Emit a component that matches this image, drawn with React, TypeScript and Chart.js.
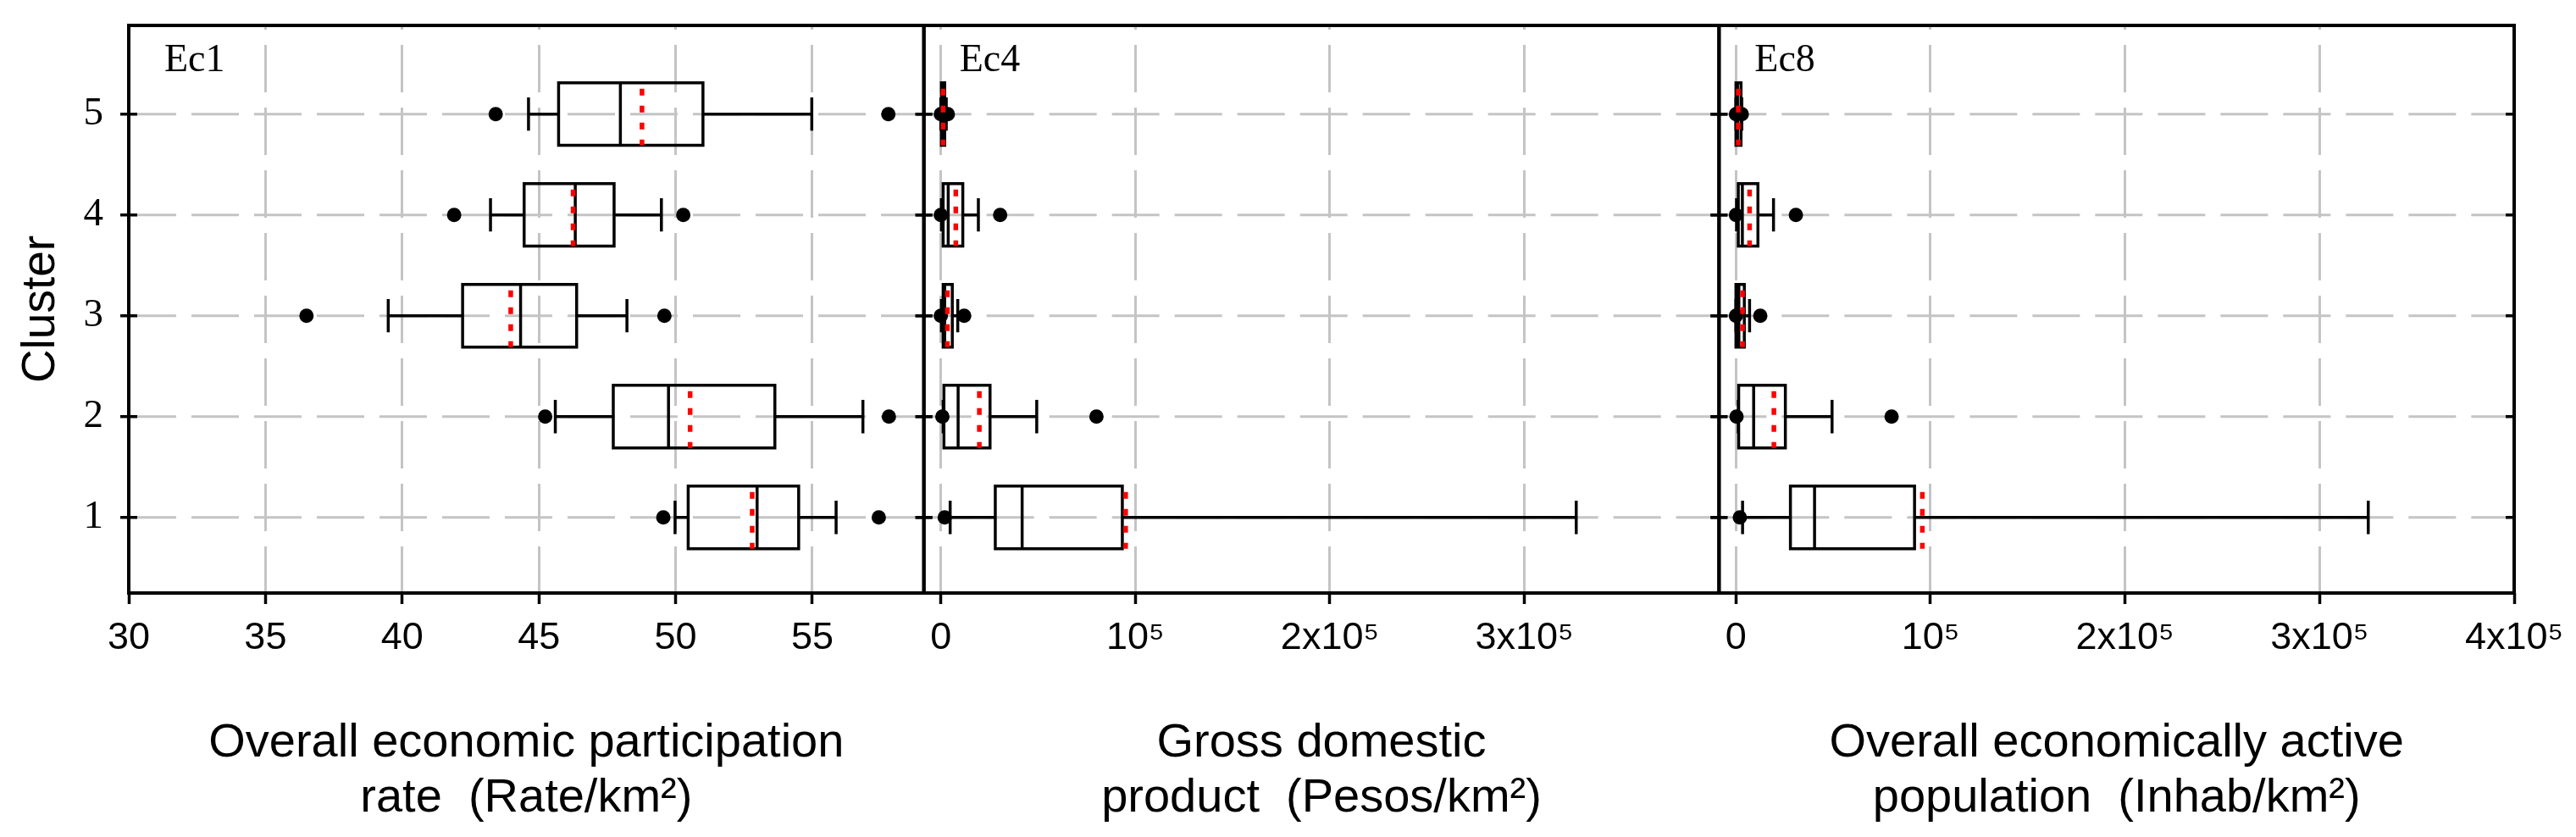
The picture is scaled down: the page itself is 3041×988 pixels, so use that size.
import React, { useEffect, useRef } from 'react';
import { Chart, registerables } from 'chart.js';

Chart.register(...registerables);

// ---------- data ----------
const CLUSTERS = [1, 2, 3, 4, 5];

// Ec1 : Overall economic participation rate
const EC1_LOW = [49.98, 45.6, 39.49, 43.23, 44.62];
const EC1_Q1 = [50.46, 47.72, 42.21, 44.46, 45.72];
const EC1_MEDIAN = [52.98, 49.74, 44.33, 46.33, 47.98];
const EC1_MEAN = [52.8, 50.53, 43.97, 46.25, 48.77];
const EC1_Q3 = [54.5, 53.63, 46.38, 47.75, 51.0];
const EC1_HIGH = [55.87, 56.85, 48.22, 49.48, 54.98];
const EC1_OUTLIERS = [[49.55, 57.43], [45.23, 57.8], [36.5, 49.59], [41.9, 50.28], [43.42, 57.78]];

// Ec4 : Gross domestic product
const EC4_LOW = [4800, 1200, 300, 300, 0];
const EC4_Q1 = [28000, 1600, 1200, 1200, 300];
const EC4_MEDIAN = [41800, 8900, 2000, 3800, 800];
const EC4_MEAN = [95000, 19800, 3400, 7700, 1200];
const EC4_Q3 = [93300, 25300, 5900, 11300, 2000];
const EC4_HIGH = [326600, 49300, 8700, 19300, 2800];
const EC4_OUTLIERS = [[2000], [800, 80000], [0, 12000], [0, 30500], [0, 3600]];

// Ec8 : Overall economically active population
const EC8_LOW = [3400, 1200, 0, 300, 0];
const EC8_Q1 = [28000, 1400, 0, 1200, 0];
const EC8_MEDIAN = [40400, 9100, 1500, 3300, 800];
const EC8_MEAN = [95800, 19500, 3400, 7000, 1200];
const EC8_Q3 = [91800, 25400, 4300, 11300, 2600];
const EC8_HIGH = [325000, 49400, 7000, 19300, 3000];
const EC8_OUTLIERS = [[2000], [300, 80000], [0, 12500], [0, 30800], [0, 3000]];

// axes / ticks
const EC1_RANGE = [30, 59.08];
const EC1_TICKS = [30, 35, 40, 45, 50, 55];
const EC1_TICK_LABELS = ['30', '35', '40', '45', '50', '55'];
const EC4_RANGE = [-8700, 400000];
const EC4_TICKS = [0, 100000, 200000, 300000];
const EC4_TICK_LABELS = ['0', '10⁵', '2x10⁵', '3x10⁵'];
const EC8_RANGE = [-8700, 400000];
const EC8_TICKS = [0, 100000, 200000, 300000, 400000];
const EC8_TICK_LABELS = ['0', '10⁵', '2x10⁵', '3x10⁵', '4x10⁵'];
const Y_RANGE = [0.25, 5.88];

const PANEL_IDS = ['x1', 'x2', 'x3'];
const PANEL_LABELS = ['Ec1', 'Ec4', 'Ec8'];
const EC1_TITLE = ['Overall economic participation', 'rate  (Rate/km²)'];
const EC4_TITLE = ['Gross domestic', 'product  (Pesos/km²)'];
const EC8_TITLE = ['Overall economically active', 'population  (Inhab/km²)'];
const Y_TITLE = 'Cluster';

// ---------- styles ----------
const SANS = "'Liberation Sans', Arial, sans-serif";
const SERIF = "'Liberation Serif', 'Times New Roman', serif";
const GRID_COLOR = '#c4c4c4';
const MEAN_COLOR = '#ff0000';
const BOX_HALF = 0.31;
const CAP_HALF = 0.165;
const CANVAS_W = 3025;
const CANVAS_H = 972;
const X_AXIS_HEIGHT = 280;
const Y_AXIS_WIDTH = 144;
const LINE_W = 3.5;
const FRAME_W = 4;

function panelDatasets(
  xAxisID: string,
  low: number[], q1: number[], median: number[], mean: number[],
  q3: number[], high: number[], outliers: number[][]
) {
  const gap = () => ({ x: null, y: null });
  const box: any[] = [], med: any[] = [], avg: any[] = [], whisk: any[] = [], caps: any[] = [], out: any[] = [];
  CLUSTERS.forEach((c, i) => {
    box.push(
      { x: q1[i], y: c - BOX_HALF }, { x: q3[i], y: c - BOX_HALF },
      { x: q3[i], y: c + BOX_HALF }, { x: q1[i], y: c + BOX_HALF },
      { x: q1[i], y: c - BOX_HALF }, gap()
    );
    med.push({ x: median[i], y: c + BOX_HALF }, { x: median[i], y: c - BOX_HALF }, gap());
    avg.push({ x: mean[i], y: c + BOX_HALF }, { x: mean[i], y: c - BOX_HALF }, gap());
    whisk.push({ x: low[i], y: c }, { x: q1[i], y: c }, gap(), { x: q3[i], y: c }, { x: high[i], y: c }, gap());
    caps.push(
      { x: low[i], y: c - CAP_HALF }, { x: low[i], y: c + CAP_HALF }, gap(),
      { x: high[i], y: c - CAP_HALF }, { x: high[i], y: c + CAP_HALF }, gap()
    );
    outliers[i].forEach((v) => out.push({ x: v, y: c }));
  });
  const line = (data: any[], color: string, width: number, dash: number[] = [], dashOffset = 0, cap = 'butt') => ({
    type: 'scatter',
    data,
    xAxisID,
    yAxisID: 'y',
    showLine: true,
    spanGaps: false,
    borderColor: color,
    backgroundColor: color,
    borderWidth: width,
    borderDash: dash,
    borderDashOffset: dashOffset,
    borderCapStyle: cap,
    borderJoinStyle: 'miter',
    pointRadius: 0,
    pointHoverRadius: 0,
    fill: false,
    tension: 0,
  });
  return [
    line(avg, MEAN_COLOR, 5.5, [8, 12], 13),
    {
      type: 'scatter',
      data: out,
      xAxisID,
      yAxisID: 'y',
      showLine: false,
      pointRadius: 8.5,
      pointHoverRadius: 8.5,
      pointStyle: 'circle',
      pointBackgroundColor: '#000',
      pointBorderColor: '#000',
      pointBorderWidth: 0,
    },
    line(med, '#000', LINE_W),
    line(box, '#000', LINE_W, [], 0, 'square'),
    line(caps, '#000', LINE_W),
    line(whisk, '#000', LINE_W),
  ];
}

function xScale(range: number[], ticks: number[], labels: string[], title: string[]) {
  return {
    type: 'linear',
    position: 'bottom',
    stack: 'panels',
    stackWeight: 1,
    min: range[0],
    max: range[1],
    afterBuildTicks: (s: any) => {
      s.ticks = ticks.map((v) => ({ value: v }));
    },
    afterFit: (s: any) => {
      s.height = X_AXIS_HEIGHT;
      s.paddingLeft = 0;
      s.paddingRight = 0;
    },
    ticks: {
      autoSkip: false,
      maxRotation: 0,
      minRotation: 0,
      padding: 14,
      color: '#000',
      font: { family: SANS, size: 45 },
      callback: (v: number) => {
        const i = ticks.indexOf(v);
        return i >= 0 ? labels[i] : '';
      },
    },
    grid: {
      display: true,
      color: GRID_COLOR,
      lineWidth: 3,
      borderDash: [56, 18],
      borderDashOffset: 51,
      drawOnChartArea: true,
      drawTicks: true,
      tickLength: 13,
      tickColor: '#000',
      tickWidth: 3.5,
      tickBorderDash: [],
      tickBorderDashOffset: 0,
    },
    border: { display: false, dash: [56, 18], dashOffset: 51 },
    title: {
      display: true,
      text: title,
      color: '#000',
      font: { family: SANS, size: 56, lineHeight: 1.16 },
      padding: { top: 0, bottom: 5 },
    },
  };
}

const panelGridPlugin = {
  id: 'panelGrid',
  beforeDatasetsDraw(chart: any) {
    const { ctx } = chart;
    const y = chart.scales.y;
    ctx.save();
    ctx.strokeStyle = GRID_COLOR;
    ctx.lineWidth = 3;
    ctx.setLineDash([56, 18]);
    ctx.lineDashOffset = 0;
    PANEL_IDS.forEach((id) => {
      const xs = chart.scales[id];
      CLUSTERS.forEach((c) => {
        const py = y.getPixelForValue(c);
        ctx.beginPath();
        ctx.moveTo(xs.left, py);
        ctx.lineTo(xs.right, py);
        ctx.stroke();
      });
    });
    ctx.restore();
  },
};

const framePlugin = {
  id: 'frame',
  afterDatasetsDraw(chart: any) {
    const { ctx, chartArea } = chart;
    const y = chart.scales.y;
    ctx.save();
    ctx.strokeStyle = '#000';
    ctx.lineWidth = FRAME_W;
    ctx.setLineDash([]);
    ctx.strokeRect(chartArea.left, chartArea.top, chartArea.right - chartArea.left, chartArea.bottom - chartArea.top);
    const edges: number[] = [];
    PANEL_IDS.forEach((id) => {
      const xs = chart.scales[id];
      edges.push(xs.left, xs.right);
    });
    edges.forEach((ex) => {
      ctx.beginPath();
      ctx.moveTo(ex, chartArea.top);
      ctx.lineTo(ex, chartArea.bottom);
      ctx.stroke();
    });
    const last = chart.scales[PANEL_IDS[PANEL_IDS.length - 1]].right;
    ctx.lineWidth = 3.5;
    edges.forEach((ex) => {
      CLUSTERS.forEach((c) => {
        const py = y.getPixelForValue(c);
        ctx.beginPath();
        ctx.moveTo(ex - 10, py);
        ctx.lineTo(Math.abs(ex - last) < 1 ? ex : ex + 10, py);
        ctx.stroke();
      });
    });
    ctx.restore();
  },
  afterDraw(chart: any) {
    const { ctx, chartArea } = chart;
    ctx.save();
    ctx.fillStyle = '#000';
    ctx.font = `46px ${SERIF}`;
    ctx.textBaseline = 'alphabetic';
    ctx.textAlign = 'left';
    PANEL_IDS.forEach((id, i) => {
      const xs = chart.scales[id];
      ctx.fillText(PANEL_LABELS[i], xs.left + 42, chartArea.top + 54);
    });
    ctx.restore();
  },
};

export default function App() {
  const ref = useRef<HTMLCanvasElement>(null);
  useEffect(() => {
    if (!ref.current) return;
    const datasets = [
      ...panelDatasets('x1', EC1_LOW, EC1_Q1, EC1_MEDIAN, EC1_MEAN, EC1_Q3, EC1_HIGH, EC1_OUTLIERS),
      ...panelDatasets('x2', EC4_LOW, EC4_Q1, EC4_MEDIAN, EC4_MEAN, EC4_Q3, EC4_HIGH, EC4_OUTLIERS),
      ...panelDatasets('x3', EC8_LOW, EC8_Q1, EC8_MEDIAN, EC8_MEAN, EC8_Q3, EC8_HIGH, EC8_OUTLIERS),
    ];
    const chart = new Chart(ref.current, {
      type: 'scatter',
      data: { datasets } as any,
      plugins: [panelGridPlugin, framePlugin],
      options: {
        animation: false,
        responsive: false,
        maintainAspectRatio: false,
        devicePixelRatio: 1,
        layout: { padding: { left: 0, top: 22, right: CANVAS_W - 2960, bottom: 0 } },
        plugins: { legend: { display: false }, tooltip: { enabled: false }, title: { display: false } },
        events: [],
        scales: {
          x1: xScale(EC1_RANGE, EC1_TICKS, EC1_TICK_LABELS, EC1_TITLE),
          x2: xScale(EC4_RANGE, EC4_TICKS, EC4_TICK_LABELS, EC4_TITLE),
          x3: xScale(EC8_RANGE, EC8_TICKS, EC8_TICK_LABELS, EC8_TITLE),
          y: {
            type: 'linear',
            position: 'left',
            min: Y_RANGE[0],
            max: Y_RANGE[1],
            afterBuildTicks: (s: any) => {
              s.ticks = CLUSTERS.map((v) => ({ value: v }));
            },
            afterFit: (s: any) => {
              s.width = Y_AXIS_WIDTH;
              s.paddingTop = 0;
              s.paddingBottom = 0;
            },
            ticks: {
              padding: 30,
              color: '#000',
              font: { family: SERIF, size: 47 },
              callback: (v: number) => String(v),
            },
            grid: { display: false, drawTicks: false, drawOnChartArea: false },
            border: { display: false },
            title: {
              display: true,
              text: Y_TITLE,
              color: '#000',
              font: { family: SANS, size: 55 },
              padding: { top: 8, bottom: 0 },
            },
          },
        },
      } as any,
    });
    return () => chart.destroy();
  }, []);
  return (
    <canvas
      ref={ref}
      width={CANVAS_W}
      height={CANVAS_H}
      style={{ display: 'block', width: CANVAS_W + 'px', height: CANVAS_H + 'px' }}
    />
  );
}
